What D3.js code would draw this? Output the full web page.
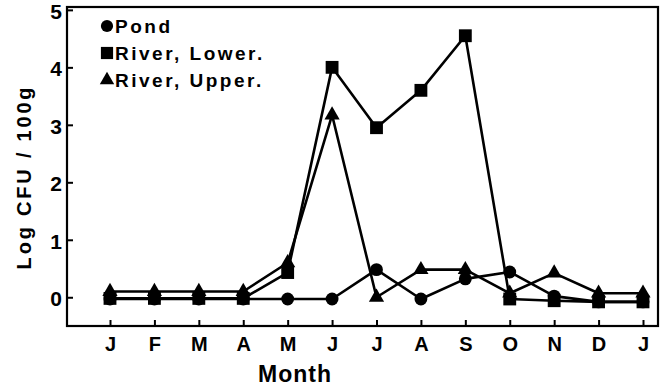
<!DOCTYPE html>
<html>
<head>
<meta charset="utf-8">
<script src="https://cdn.jsdelivr.net/npm/d3@7"></script>
<style>
  body { margin: 0; background: #fff; }
  text { font-family: "Liberation Sans", Arial, sans-serif; font-weight: bold; fill: #000; }
</style>
</head>
<body>
<div id="chart"></div>
<script>
var w = 661;
var h = 388;

// data
var months = ["J", "F", "M", "A", "M", "J", "J", "A", "S", "O", "N", "D", "J"];
var pond = [-0.03, -0.03, -0.03, -0.03, -0.03, -0.03, 0.48, -0.03, 0.32, 0.44, 0.02, -0.08, -0.08];
var riverLower = [-0.02, -0.02, -0.02, -0.02, 0.43, 4.0, 2.95, 3.6, 4.55, -0.03, -0.06, -0.08, -0.08];
var riverUpper = [0.1, 0.1, 0.1, 0.1, 0.6, 3.17, 0.0, 0.48, 0.48, 0.07, 0.42, 0.07, 0.07];
var yTicks = [0, 1, 2, 3, 4, 5];
var legendNames = ["Pond", "River, Lower.", "River, Upper."];

// plot frame (window.top is reserved, so own names here)
var frameL = 67, frameR = 658, frameT = 7, frameB = 326;

var svg = d3.select("#chart")
  .append("svg")
  .attr("width", w)
  .attr("height", h);

var x = d3.scaleLinear().domain([0, 12]).range([110, 643]);
var y = d3.scaleLinear().domain([-0.5, 5.05]).range([frameB, frameT]);

// frame
svg.append("rect")
  .attr("x", frameL).attr("y", frameT)
  .attr("width", frameR - frameL).attr("height", frameB - frameT)
  .attr("fill", "none").attr("stroke", "#000").attr("stroke-width", 2.2);

// x axis
var xAxis = svg.append("g")
  .attr("transform", "translate(0," + frameB + ")")
  .call(d3.axisBottom(x)
    .tickValues(d3.range(months.length))
    .tickFormat(function(d) { return months[d]; })
    .tickSize(-6)
    .tickPadding(11));
xAxis.select(".domain").remove();
xAxis.selectAll("line").attr("stroke", "#000").attr("stroke-width", 2);
xAxis.selectAll("text").style("font-size", "20px").attr("font-family", null);

// y axis
var yAxis = svg.append("g")
  .attr("transform", "translate(" + frameL + ",0)")
  .call(d3.axisLeft(y)
    .tickValues(yTicks)
    .tickFormat(d3.format("d"))
    .tickSize(-6)
    .tickPadding(5));
yAxis.select(".domain").remove();
yAxis.selectAll("line").attr("stroke", "#000").attr("stroke-width", 2);
yAxis.selectAll("text").style("font-size", "21px").attr("font-family", null).attr("dy", "0.4em");

// axis titles
svg.append("text")
  .attr("x", 295).attr("y", 382)
  .attr("text-anchor", "middle")
  .style("font-size", "23px")
  .style("letter-spacing", "1px")
  .text("Month");

svg.append("text")
  .attr("transform", "translate(31,177) rotate(-90)")
  .attr("text-anchor", "middle")
  .style("font-size", "20px")
  .style("letter-spacing", "2.8px")
  .text("Log CFU / 100g");

// lines
var line = d3.line()
  .x(function(d, i) { return x(i); })
  .y(function(d) { return y(d); });

var series = [
  { values: pond, symbol: d3.symbolCircle, size: 130 },
  { values: riverLower, symbol: d3.symbolSquare, size: 165 },
  { values: riverUpper, symbol: d3.symbolTriangle, size: 100 }
];

series.forEach(function(s) {
  svg.append("path")
    .datum(s.values)
    .attr("d", line)
    .attr("fill", "none")
    .attr("stroke", "#000")
    .attr("stroke-width", 2.6)
    .attr("stroke-linejoin", "round");
});

series.forEach(function(s) {
  svg.selectAll(null)
    .data(s.values)
    .enter()
    .append("path")
    .attr("transform", function(d, i) { return "translate(" + x(i) + "," + y(d) + ")"; })
    .attr("d", d3.symbol().type(s.symbol).size(s.size))
    .attr("fill", "#000");
});

// legend
var legend = svg.selectAll(".legend")
  .data(series)
  .enter()
  .append("g")
  .attr("transform", function(d, i) { return "translate(107," + (26 + i * 27) + ")"; });

legend.append("path")
  .attr("d", function(d) { return d3.symbol().type(d.symbol).size(d.size * 0.9)(); })
  .attr("fill", "#000");

legend.append("text")
  .attr("x", 8).attr("y", 7)
  .style("font-size", "19px")
  .style("letter-spacing", "2.5px")
  .text(function(d, i) { return legendNames[i]; });
</script>
</body>
</html>
